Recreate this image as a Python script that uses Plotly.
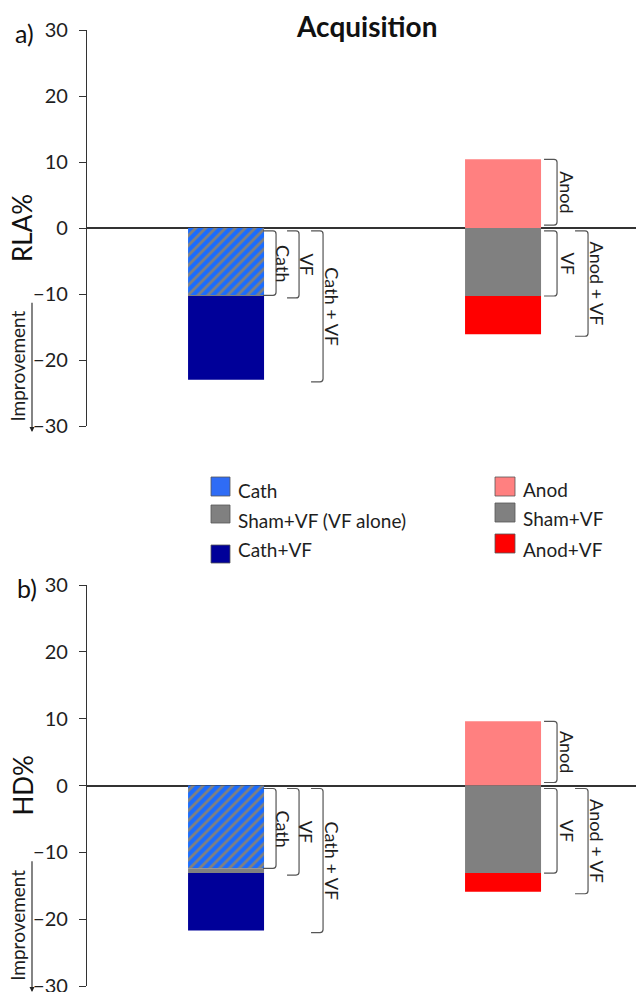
import plotly.graph_objects as go

# ---------------- data ----------------
categories = ["Cath", "Anod"]
panel_labels = ["a)", "b)"]
y_titles = ["RLA%", "HD%"]
title_text = "Acquisition"

# panel a (RLA%)
rla_stim = [-10.2, 10.4]       # Cath, Anod alone
rla_vf = -10.3                 # Sham+VF (VF alone)
rla_combined = [-23.0, -16.1]  # Cath+VF, Anod+VF

# panel b (HD%)
hd_stim = [-12.4, 9.6]
hd_vf = -13.1
hd_combined = [-21.7, -15.9]

y_ticks = [-30, -20, -10, 0, 10, 20, 30]

legend_left = ["Cath", "Sham+VF (VF alone)", "Cath+VF"]
legend_right = ["Anod", "Sham+VF", "Anod+VF"]

bracket_left = ["Cath", "VF", "Cath + VF"]
bracket_right = ["Anod", "VF", "Anod + VF"]

# ---------------- styles ----------------
C_BLUE = "#2f6cf5"
C_HATCH_BG = "#1a6cff"
C_GRAY = "#808080"
C_NAVY = "#000099"
C_PINK = "#ff8080"
C_RED = "#ff0000"
FONT = "Lato"
TXT = "#1e1e1e"

W, H = 636, 992
X_DOM = [87 / W, 1.0]
X_RANGE = [-0.502, 1.48]
PX_PER_X = (X_DOM[1] - X_DOM[0]) * W / (X_RANGE[1] - X_RANGE[0])
BAR_W = 76 / PX_PER_X

panels = [
    dict(stim=rla_stim, vf=rla_vf, comb=rla_combined, top=30, bottom=426,
         xa="x", ya="y"),
    dict(stim=hd_stim, vf=hd_vf, comb=hd_combined, top=585, bottom=986,
         xa="x2", ya="y2"),
]

fig = go.Figure()
shapes = []
annotations = []

xpos = list(range(len(categories)))


def add_bar(p, x, base, top, color, pattern=None):
    kw = dict(x=[x], y=[top - base], base=[base], width=BAR_W,
              marker=dict(color=color, line=dict(width=0)),
              xaxis=p["xa"], yaxis=p["ya"], showlegend=False, hoverinfo="skip")
    if pattern:
        kw["marker"]["pattern"] = pattern
    fig.add_trace(go.Bar(**kw))


def bracket(p, xc, off0, off1, y_a, y_b, upy):
    # square bracket "]" from y_a to y_b
    x0 = xc + off0 / PX_PER_X
    x1 = xc + off1 / PX_PER_X
    rx = 3 / PX_PER_X
    ry = 3 * upy
    yt, yb = max(y_a, y_b), min(y_a, y_b)
    path = (f"M {x0},{yt} L {x1 - rx},{yt} Q {x1},{yt} {x1},{yt - ry} "
            f"L {x1},{yb + ry} Q {x1},{yb} {x1 - rx},{yb} L {x0},{yb}")
    shapes.append(dict(type="path", path=path, xref=p["xa"], yref=p["ya"],
                       line=dict(color="#555555", width=1.2)))


def blabel(p, xc, off, y_a, y_b, text):
    annotations.append(dict(x=xc + off / PX_PER_X, y=(y_a + y_b) / 2,
                            xref=p["xa"], yref=p["ya"], text=text,
                            textangle=90, showarrow=False,
                            font=dict(family=FONT, size=18, color=TXT),
                            xanchor="center", yanchor="middle"))


for i, p in enumerate(panels):
    upy = 60 / (p["bottom"] - p["top"])  # data units per pixel
    stim, vf, comb = p["stim"], p["vf"], p["comb"]
    xl, xr = xpos[0], xpos[1]

    # left (cathodal) stacked bar
    overlap = max(stim[0], vf)
    add_bar(p, xl, 0, overlap, C_HATCH_BG,
            pattern=dict(shape="/", fgcolor=C_GRAY, bgcolor=C_HATCH_BG,
                         size=7, solidity=0.4, fillmode="replace"))
    if vf < stim[0]:
        add_bar(p, xl, stim[0], vf, C_GRAY)
    add_bar(p, xl, min(stim[0], vf), comb[0], C_NAVY)

    # right (anodal) stacked bar
    add_bar(p, xr, 0, stim[1], C_PINK)
    add_bar(p, xr, 0, vf, C_GRAY)
    add_bar(p, xr, vf, comb[1], C_RED)

    gap = 0.45
    # left brackets
    bracket(p, xl, 37, 50, -gap, stim[0], upy)
    blabel(p, xl, 57, -gap, stim[0], bracket_left[0])
    bracket(p, xl, 61, 73, -gap, vf - 0.3, upy)
    blabel(p, xl, 80, -gap, vf - 0.3, bracket_left[1])
    bracket(p, xl, 85, 97, -gap, comb[0] - 0.3, upy)
    blabel(p, xl, 106, -gap, comb[0] - 0.3, bracket_left[2])

    # right brackets
    bracket(p, xr, 41, 54, stim[1], gap, upy)
    blabel(p, xr, 64, stim[1], gap, bracket_right[0])
    bracket(p, xr, 41, 54, -gap, vf, upy)
    blabel(p, xr, 64, -gap, vf, bracket_right[1])
    bracket(p, xr, 72, 85, -gap, comb[1] - 0.3, upy)
    blabel(p, xr, 94, -gap, comb[1] - 0.3, bracket_right[2])

    # y title
    annotations.append(dict(x=22 / W, y=0, xref="paper", yref=p["ya"],
                            text=y_titles[i], textangle=-90, showarrow=False,
                            font=dict(family=FONT, size=26, color="#111"),
                            xanchor="center", yanchor="middle"))
    # panel label
    annotations.append(dict(x=(13 if i == 0 else 15) / W, y=29.5, xref="paper",
                            yref=p["ya"], text=panel_labels[i], showarrow=False,
                            font=dict(family=FONT, size=25, color="#111"),
                            xanchor="left", yanchor="middle"))
    # Improvement arrow + text
    annotations.append(dict(x=32 / W, y=-30.9, xref="paper", yref=p["ya"],
                            ax=0, ay=-11.1, axref="pixel", ayref=p["ya"],
                            text="", showarrow=True, arrowhead=2,
                            arrowsize=0.9, arrowwidth=1.1, arrowcolor="#222"))
    annotations.append(dict(x=18 / W, y=-21.0, xref="paper", yref=p["ya"],
                            text="Improvement", textangle=-90, showarrow=False,
                            font=dict(family=FONT, size=19, color=TXT),
                            xanchor="center", yanchor="middle"))

# title
annotations.append(dict(x=367 / W, y=1 - 26 / H, xref="paper", yref="paper",
                        text="<b>" + title_text + "</b>", showarrow=False,
                        font=dict(family=FONT, size=28, color="#111"),
                        xanchor="center", yanchor="middle"))

# legend (manual)
leg_left_colors = [C_BLUE, C_GRAY, C_NAVY]
leg_right_colors = [C_PINK, C_GRAY, C_RED]
left_sq = [(477, 496), (505, 523), (545, 563)]
left_txt = [491, 520, 549]
right_sq = [(477, 496), (503, 522), (534, 553)]
right_txt = [490, 518, 549]
for lab, col, (s0, s1), ty in zip(legend_left, leg_left_colors, left_sq, left_txt):
    shapes.append(dict(type="rect", xref="paper", yref="paper",
                       x0=211 / W, x1=230 / W, y0=1 - s1 / H, y1=1 - s0 / H,
                       fillcolor=col, line=dict(color="#555", width=0.8)))
    annotations.append(dict(x=236 / W, y=1 - ty / H, xref="paper", yref="paper",
                            text=lab, showarrow=False, xanchor="left",
                            yanchor="middle",
                            font=dict(family=FONT, size=19, color=TXT)))
for lab, col, (s0, s1), ty in zip(legend_right, leg_right_colors, right_sq, right_txt):
    shapes.append(dict(type="rect", xref="paper", yref="paper",
                       x0=495 / W, x1=515 / W, y0=1 - s1 / H, y1=1 - s0 / H,
                       fillcolor=col, line=dict(color="#555", width=0.8)))
    annotations.append(dict(x=521 / W, y=1 - ty / H, xref="paper", yref="paper",
                            text=lab, showarrow=False, xanchor="left",
                            yanchor="middle",
                            font=dict(family=FONT, size=19, color=TXT)))

yax_common = dict(range=[-30, 30], tickvals=y_ticks, ticks="outside", ticklen=7,
                  tickwidth=1.3, tickcolor="#333", showline=True,
                  linecolor="#333", linewidth=1.3, showgrid=False,
                  zeroline=True, zerolinecolor="#333", zerolinewidth=1.6,
                  tickfont=dict(family=FONT, size=20, color=TXT),
                  ticklabelstandoff=7, ticklabeloverflow="allow",
                  automargin=False, fixedrange=True)
xax_common = dict(domain=X_DOM, range=X_RANGE, visible=False,
                  automargin=False, fixedrange=True)

fig.update_layout(
    template="none",
    width=W, height=H,
    margin=dict(l=0, r=0, t=0, b=0),
    paper_bgcolor="white", plot_bgcolor="white",
    barmode="overlay",
    showlegend=False,
    xaxis=dict(anchor="y", **xax_common),
    xaxis2=dict(anchor="y2", **xax_common),
    yaxis=dict(anchor="x", domain=[1 - panels[0]["bottom"] / H, 1 - panels[0]["top"] / H],
               **yax_common),
    yaxis2=dict(anchor="x2", domain=[1 - panels[1]["bottom"] / H, 1 - panels[1]["top"] / H],
                **yax_common),
    shapes=shapes,
    annotations=annotations,
)

fig.write_html("out.html")
